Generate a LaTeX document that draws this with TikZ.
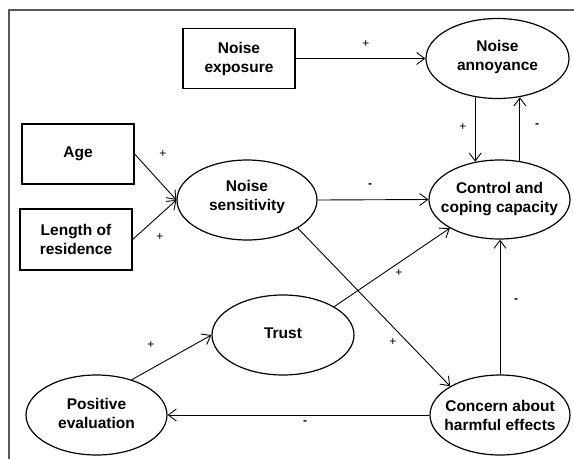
\documentclass[tikz,border=0pt]{standalone}
\usepackage{fontspec}
\setmainfont{Liberation Sans}
\usetikzlibrary{shapes.geometric,arrows.meta}
\begin{document}
\begin{tikzpicture}[x=1pt,y=-1pt,
  txt/.style={font=\bfseries\fontsize{15.5}{19}\selectfont,align=center},
  box/.style={draw,line width=1.2pt,rectangle,inner sep=0pt,txt},
  oval/.style={draw,line width=1.2pt,ellipse,inner sep=0pt},
  arr/.style={line width=0.9pt,-{Straight Barb[length=8pt,width=12pt]}},
  sgn/.style={font=\fontsize{12}{12}\selectfont,inner sep=0pt},
  msg/.style={font=\bfseries\fontsize{12}{12}\selectfont,inner sep=0pt}]
\useasboundingbox (0,0) rectangle (574,459);
\draw[line width=1.3pt,black!65] (9,459) -- (9,10) -- (574,10);

\node[box,minimum width=112pt,minimum height=60pt] (exp) at (239,58.5) {Noise\\exposure};
\node[box,minimum width=112pt,minimum height=60pt] (age) at (78,154) {Age};
\node[box,minimum width=112pt,minimum height=61pt] (len) at (76,239.5) {Length of\\residence};

\node[oval,minimum width=143pt,minimum height=80pt,label={[txt,yshift=2pt]center:Noise\\annoyance}] (ann) at (497.5,58.5) {};
\node[oval,minimum width=140pt,minimum height=80pt,label={[txt,yshift=3pt]center:Noise\\sensitivity}] (sen) at (247,200) {};
\node[oval,minimum width=141pt,minimum height=79pt,label={[txt]center:Control and\\coping capacity}] (ctl) at (499.5,199.5) {};
\node[oval,minimum width=142pt,minimum height=80pt,label={[txt,yshift=2pt]center:Trust}] (trust) at (283,335) {};
\node[oval,minimum width=141pt,minimum height=80pt,label={[txt,yshift=2pt]center:Positive\\evaluation}] (pos) at (96.5,415) {};
\node[oval,minimum width=140pt,minimum height=80pt,label={[txt]center:Concern about\\harmful effects}] (con) at (500,415) {};

\draw[arr] (exp.east) -- (ann.west);
\draw[arr] (ann.240.6) -- (ann.240.6 |- ctl.122.3);
\draw[arr] (ctl.62.8) -- (ctl.62.8 |- ann.299.4);
\draw[arr] (age.east) -- (sen.west);
\draw[arr] (len.east) -- (sen.west);
\draw[arr] (sen.east) -- (ctl.west);
\draw[arr] (trust.29) -- (ctl.210);
\draw[arr] (sen.331.3) -- (con.150.8);
\draw[arr] (con.north) -- (con.north |- ctl.south);
\draw[arr] (con.west) -- (pos.east);
\draw[arr] (pos.45) -- (trust.west);

\node[sgn] (s1) at (366,44) {+};
\node[sgn] (s2) at (463,127) {+};
\node[msg] (s3) at (537,126) {-};
\node[sgn] (s4) at (163,154) {+};
\node[sgn] (s5) at (160,237) {+};
\node[msg] (s6) at (370,186) {-};
\node[sgn] (s7) at (399,273) {+};
\node[sgn] (s8) at (393,342) {+};
\node[msg] (s9) at (516,301) {-};
\node[sgn] (s10) at (151,345) {+};
\node[msg] (s11) at (305,423) {-};
\end{tikzpicture}
\end{document}
